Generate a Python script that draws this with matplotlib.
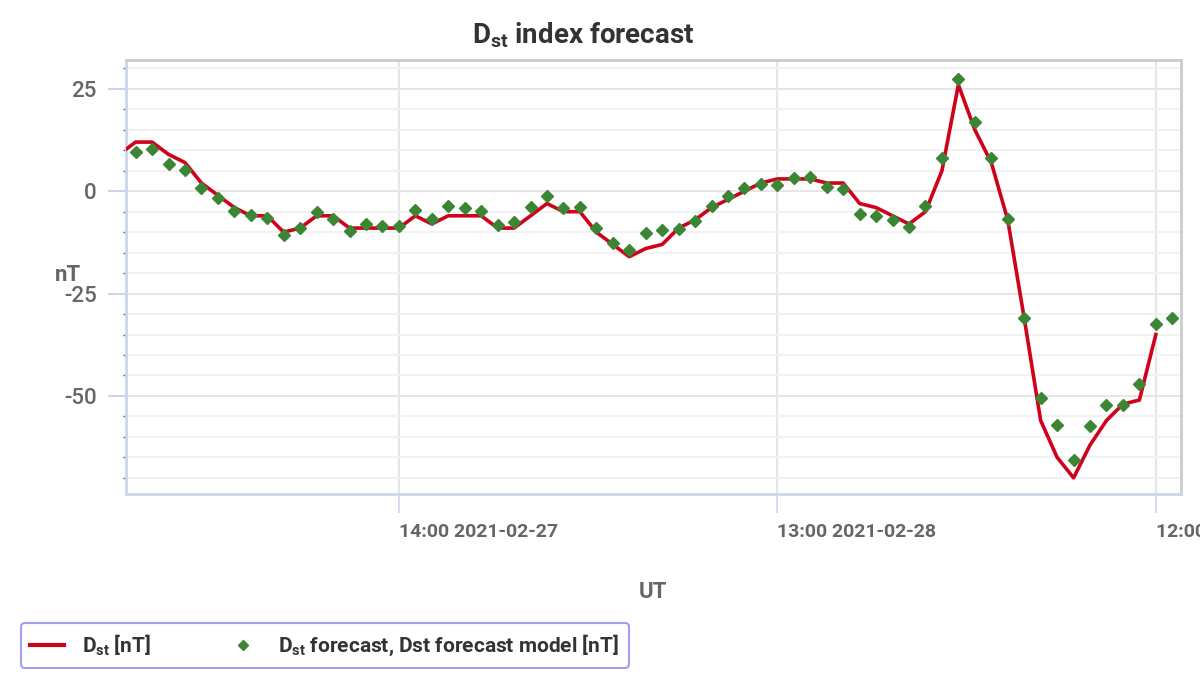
import matplotlib
matplotlib.use("Agg")
import matplotlib.pyplot as plt
from matplotlib import font_manager
from matplotlib.ticker import MultipleLocator
from matplotlib.lines import Line2D
from datetime import datetime, timedelta

# Fuente estrecha si existe, si no una normal
installed = {f.name for f in font_manager.fontManager.ttflist}
NARROW = "Liberation Sans Narrow" if "Liberation Sans Narrow" in installed else "Roboto"

plt.rcParams["font.family"] = [NARROW, "DejaVu Sans"]
plt.rcParams["axes.unicode_minus"] = False
plt.rcParams["mathtext.fontset"] = "custom"
plt.rcParams["mathtext.rm"] = NARROW + ":bold"
plt.rcParams["mathtext.it"] = NARROW + ":bold"

# Datos (valores horarios)
dst_start = datetime(2021, 2, 26, 21)
forecast_start = datetime(2021, 2, 26, 22)

dst_values = [9, 12, 12, 9, 7, 2, -1, -4, -6, -6,
              -10, -9, -6, -6, -9, -9, -9, -9, -6, -8,
              -6, -6, -6, -9, -9, -6, -3, -5, -5, -10,
              -13, -16, -14, -13, -9, -7, -4, -2, 0, 2,
              3, 3, 3, 2, 2, -3, -4, -6, -8, -5,
              5, 26, 15, 7, -7, -31, -56, -65, -70, -62,
              -56, -52, -51, -35]

forecast_values = [9.6, 10.4, 6.6, 5.2, 0.7, -1.6, -4.9, -5.8, -6.6, -10.7,
                   -9.0, -5.0, -6.9, -9.8, -8.1, -8.4, -8.4, -4.6, -6.8, -3.7,
                   -4.2, -4.9, -8.3, -7.6, -3.9, -1.1, -4.2, -3.8, -9.1, -12.7,
                   -14.3, -10.3, -9.5, -9.3, -7.2, -3.7, -1.1, 0.8, 1.8, 1.5,
                   3.2, 3.4, 1.1, 0.5, -5.6, -6.1, -7.0, -8.7, -3.7, 8.1,
                   27.4, 16.8, 8.1, -6.8, -30.9, -50.4, -57.0, -65.7, -57.4, -52.3,
                   -52.1, -47.1, -32.4, -31.0]

tick_times = [datetime(2021, 2, 27, 14), datetime(2021, 2, 28, 13), datetime(2021, 3, 1, 12)]
tick_labels = ["14:00 2021-02-27", "13:00 2021-02-28", "12:00 2021-03-01"]

dst_times = [dst_start + timedelta(hours=i) for i in range(len(dst_values))]
forecast_times = [forecast_start + timedelta(hours=i) for i in range(len(forecast_values))]

RED = "#d0021b"
GREEN = "#3b8634"
BLUE_AXIS = "#ccd6eb"

fig = plt.figure(figsize=(12, 7), dpi=100)
ax = fig.add_axes([0.105, 0.294, 0.879, 0.620])

ax.plot(dst_times, dst_values, color=RED, linewidth=2.6, zorder=3)
ax.plot(forecast_times, forecast_values, linestyle="none", marker="D",
        markersize=6, color=GREEN, zorder=4)

ax.set_xlim(datetime(2021, 2, 26, 21, 25), datetime(2021, 3, 1, 13, 31))
ax.set_ylim(-74, 32)

# Eje Y
ax.yaxis.set_major_locator(MultipleLocator(25))
ax.yaxis.set_minor_locator(MultipleLocator(5))
ax.grid(which="major", axis="y", color="#e6e6e6", linewidth=1.4)
ax.grid(which="minor", axis="y", color="#f2f2f2", linewidth=1.4)
ax.tick_params(axis="y", which="major", length=13, width=1.5, color=BLUE_AXIS,
               pad=8, labelsize=16, labelcolor="#666666")
ax.tick_params(axis="y", which="minor", length=2, width=1, color="#666666")
for lbl in ax.get_yticklabels():
    lbl.set_family(["Roboto", "DejaVu Sans"])
    lbl.set_fontweight("medium")

# Eje X
ax.set_xticks(tick_times)
ax.set_xticklabels(tick_labels, ha="left", fontsize=14, color="#666666", fontweight="bold")
ax.grid(which="major", axis="x", color="#e6e6e6", linewidth=1.5)
ax.tick_params(axis="x", which="major", length=14, width=1.2, color=BLUE_AXIS, pad=7)
ax.tick_params(axis="x", which="minor", length=0)

ax.spines["left"].set_color(BLUE_AXIS)
ax.spines["left"].set_linewidth(2)
ax.spines["bottom"].set_color(BLUE_AXIS)
ax.spines["bottom"].set_linewidth(2)
ax.spines["top"].set_color("#cccccc")
ax.spines["top"].set_linewidth(2)
ax.spines["right"].set_color("#cccccc")
ax.spines["right"].set_linewidth(2)

ax.set_xlabel("UT", fontsize=16, color="#666666", fontweight="bold")
ax.xaxis.set_label_coords(0.50, -0.20)
ax.set_ylabel("nT", fontsize=16, color="#666666", fontweight="bold", rotation=0)
ax.yaxis.set_label_coords(-0.055, 0.48)

fig.text(0.486, 0.949, r"D$_{\rm st}$ index forecast", ha="center", va="center",
         fontsize=20, color="#333333", fontweight="bold")

handles = [Line2D([], [], color=RED, linewidth=3),
           Line2D([], [], linestyle="none", marker="D", markersize=5, color=GREEN)]
labels = [r"D$_{\rm st}$ [nT]", r"D$_{\rm st}$ forecast, Dst forecast model [nT]"]
leg = fig.legend(handles, labels, loc="lower left", bbox_to_anchor=(0.0175, 0.046),
                 borderaxespad=0, ncol=2, fontsize=15, frameon=True, fancybox=True,
                 handlelength=1.6, handletextpad=0.9, columnspacing=3.6, borderpad=0.45)
leg.get_frame().set_edgecolor("#8888f0")
leg.get_frame().set_linewidth(1.5)
for t in leg.get_texts():
    t.set_color("#333333")
    t.set_fontweight("bold")

fig.savefig("out.png", dpi=100)
